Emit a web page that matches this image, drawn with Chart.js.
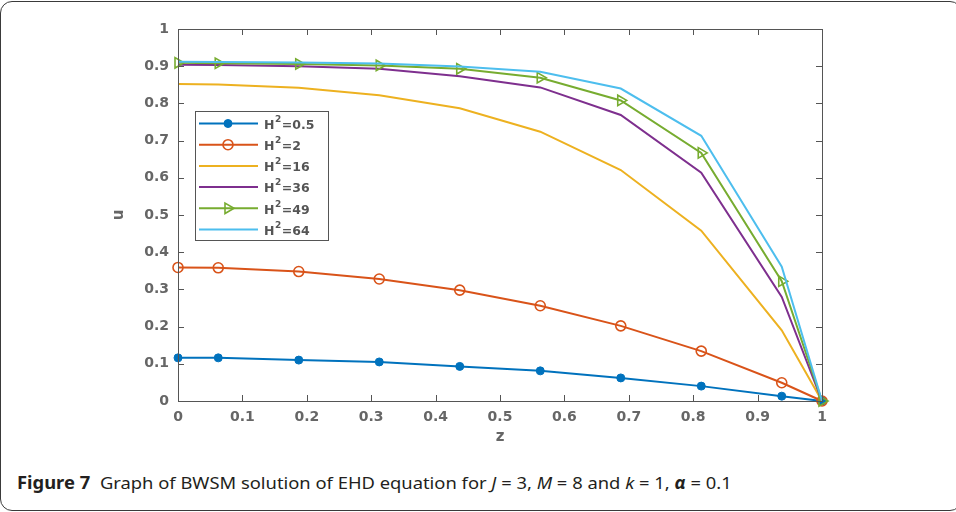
<!DOCTYPE html>
<html>
<head>
<meta charset="utf-8">
<script src="https://cdn.jsdelivr.net/npm/chart.js@4.4.0/dist/chart.umd.min.js"></script>
<style>
  html, body { margin: 0; padding: 0; background: #fff; overflow: hidden; }
  #frame { position: absolute; left: 0px; top: 1px; width: 962px; height: 510px; border: 1px solid #3a3a3a; border-radius: 12px; box-sizing: border-box; }
  #wrap { position: absolute; left: 0; top: 0; width: 956px; height: 460px; }
  #caption { position: absolute; left: 17px; top: 471px; font-family: "Noto Sans", sans-serif; font-size: 17px; color: #231f20; white-space: nowrap; transform: scaleX(1.08); transform-origin: left top; }
  #caption b.fig { margin-right: 9px; }
</style>
</head>
<body>
<div id="frame"></div>
<div id="wrap"><canvas id="chart" width="956" height="460"></canvas></div>
<div id="caption"><b class="fig">Figure 7</b>Graph of BWSM solution of EHD equation for <i>J</i> = 3, <i>M</i> = 8 and <i>k</i> = 1, <b><i>α</i></b> = 0.1</div>
<script>
// z positions of the computed points
const zVals = [0, 0.0625, 0.1875, 0.3125, 0.4375, 0.5625, 0.6875, 0.8125, 0.9375, 1];

const u_h05 = [0.116, 0.116, 0.110, 0.105, 0.093, 0.081, 0.062, 0.040, 0.013, 0];
const u_h2  = [0.359, 0.358, 0.348, 0.328, 0.298, 0.256, 0.202, 0.134, 0.049, 0];
const u_h16 = [0.852, 0.851, 0.842, 0.822, 0.787, 0.724, 0.621, 0.458, 0.190, 0];
const u_h36 = [0.904, 0.903, 0.900, 0.893, 0.873, 0.843, 0.769, 0.614, 0.280, 0];
const u_h49 = [0.909, 0.908, 0.906, 0.902, 0.893, 0.869, 0.808, 0.667, 0.322, 0];
const u_h64 = [0.912, 0.911, 0.910, 0.907, 0.899, 0.885, 0.840, 0.713, 0.361, 0];

const seriesLabels = ['0.5', '2', '16', '36', '49', '64'];
const seriesData = [u_h05, u_h2, u_h16, u_h36, u_h49, u_h64];
const seriesColors = ['#0072bd', '#d95319', '#edb120', '#7e2f8e', '#77ac30', '#4dbeee'];
const seriesMarkers = ['filled', 'open', 'none', 'none', 'triangle', 'none'];

const fontFam = 'DejaVu Sans, Arial, sans-serif';
const tickFont = { family: fontFam, size: 14, weight: 'bold' };
const tickColor = '#666';

const toPoints = function(vals) {
	return vals.map((v, i) => ({ x: zVals[i], y: v }));
};

const datasets = seriesData.map(function(vals, i) {
	const m = seriesMarkers[i];
	return {
		label: 'H2=' + seriesLabels[i],
		data: toPoints(vals),
		borderColor: seriesColors[i],
		backgroundColor: m === 'filled' ? seriesColors[i] : 'transparent',
		borderWidth: 2,
		tension: 0,
		clip: false,
		order: seriesData.length - i,
		pointStyle: m === 'triangle' ? 'triangle' : 'circle',
		pointRotation: m === 'triangle' ? 90 : 0,
		pointRadius: m === 'none' ? 0 : (m === 'filled' ? 4 : (m === 'triangle' ? 6 : 5)),
		pointBorderWidth: m === 'filled' ? 1 : 1.6,
		pointBorderColor: seriesColors[i],
		pointBackgroundColor: m === 'filled' ? seriesColors[i] : 'transparent'
	};
});

// MATLAB style box, inward ticks, axis labels and legend
const matlabAxes = {
	id: 'matlabAxes',
	afterDatasetsDraw(chart) {
		const ctx = chart.ctx;
		const a = chart.chartArea;
		const xs = chart.scales.x, ys = chart.scales.y;
		ctx.save();
		ctx.strokeStyle = '#555';
		ctx.lineWidth = 1;
		ctx.strokeRect(Math.round(a.left) + 0.5, Math.round(a.top) + 0.5, Math.round(a.right - a.left), Math.round(a.bottom - a.top));
		ctx.beginPath();
		xs.ticks.forEach(function(t) {
			const px = Math.round(xs.getPixelForValue(t.value)) + 0.5;
			ctx.moveTo(px, a.bottom); ctx.lineTo(px, a.bottom - 6);
			ctx.moveTo(px, a.top); ctx.lineTo(px, a.top + 6);
		});
		ys.ticks.forEach(function(t) {
			const py = Math.round(ys.getPixelForValue(t.value)) + 0.5;
			ctx.moveTo(a.left, py); ctx.lineTo(a.left + 6, py);
			ctx.moveTo(a.right, py); ctx.lineTo(a.right - 6, py);
		});
		ctx.stroke();

		// axis titles
		ctx.fillStyle = tickColor;
		ctx.font = 'bold 15px ' + fontFam;
		ctx.textAlign = 'center';
		ctx.textBaseline = 'middle';
		ctx.fillText('z', (a.left + a.right) / 2, 437);
		ctx.translate(119, (a.top + a.bottom) / 2);
		ctx.rotate(-Math.PI / 2);
		ctx.fillText('u', 0, 0);
		ctx.restore();

		// legend
		ctx.save();
		const bx = 195, by = 111, bw = 133, bh = 129;
		ctx.fillStyle = '#fff';
		ctx.fillRect(bx, by, bw, bh);
		ctx.strokeStyle = '#555';
		ctx.lineWidth = 1;
		ctx.strokeRect(bx + 0.5, by + 0.5, bw, bh);
		chart.data.datasets.forEach(function(ds, i) {
			const y = 123.5 + i * 21.2;
			ctx.strokeStyle = ds.borderColor;
			ctx.lineWidth = 2;
			ctx.beginPath();
			ctx.moveTo(199, y); ctx.lineTo(258, y);
			ctx.stroke();
			if (ds.pointRadius > 0) {
				ctx.lineWidth = ds.pointBorderWidth;
				ctx.fillStyle = ds.pointBackgroundColor;
				Chart.helpers.drawPoint(ctx, {
					pointStyle: ds.pointStyle,
					rotation: ds.pointRotation,
					radius: ds.pointRadius,
					borderWidth: ds.pointBorderWidth
				}, 228, y);
			}
			ctx.fillStyle = '#555';
			ctx.textBaseline = 'middle';
			ctx.textAlign = 'left';
			ctx.font = 'bold 12.5px ' + fontFam;
			let x = 264;
			ctx.fillText('H', x, y + 2);
			x += ctx.measureText('H').width + 0.5;
			ctx.font = 'bold 9px ' + fontFam;
			ctx.fillText('2', x, y - 4);
			x += ctx.measureText('2').width + 0.5;
			ctx.font = 'bold 12.5px ' + fontFam;
			ctx.fillText('=' + seriesLabels[i], x, y + 2);
		});
		ctx.restore();
	}
};

const fmt = v => String(Math.round(v * 10) / 10);

const chart = new Chart(document.getElementById('chart'), {
	type: 'line',
	data: { datasets: datasets },
	options: {
		responsive: false,
		animation: false,
		layout: { padding: { left: 0, right: 134, top: 29, bottom: 0 } },
		plugins: { legend: { display: false }, tooltip: { enabled: false } },
		scales: {
			x: {
				type: 'linear', min: 0, max: 1,
				ticks: { stepSize: 0.1, padding: 8, color: tickColor, font: tickFont, callback: fmt, maxRotation: 0 },
				grid: { display: false, drawTicks: false },
				border: { display: false },
				afterFit: s => { s.height = 59; }
			},
			y: {
				type: 'linear', min: 0, max: 1,
				ticks: { stepSize: 0.1, padding: 9, color: tickColor, font: tickFont, callback: fmt },
				grid: { display: false, drawTicks: false },
				border: { display: false },
				afterFit: s => { s.width = 178; }
			}
		}
	},
	plugins: [matlabAxes]
});
</script>
</body>
</html>
